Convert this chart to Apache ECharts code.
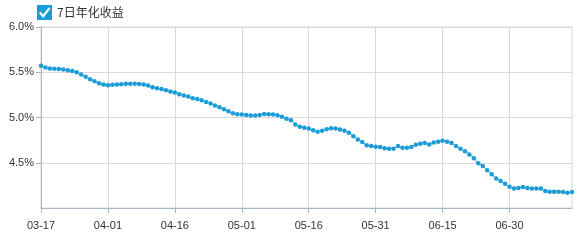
<!DOCTYPE html>
<html><head><meta charset="utf-8">
<script src="https://cdn.jsdelivr.net/npm/echarts@6/dist/echarts.min.js"></script>
<style>html,body{margin:0;padding:0;background:#fff}#c{width:583px;height:240px}</style>
</head><body><div id="c"></div>
<script>
var seriesName = '7日年化收益';
var dates = [
'03-17','03-18','03-19','03-20','03-21','03-22','03-23','03-24','03-25','03-26','03-27','03-28','03-29','03-30','03-31',
'04-01','04-02','04-03','04-04','04-05','04-06','04-07','04-08','04-09','04-10','04-11','04-12','04-13','04-14','04-15',
'04-16','04-17','04-18','04-19','04-20','04-21','04-22','04-23','04-24','04-25','04-26','04-27','04-28','04-29','04-30',
'05-01','05-02','05-03','05-04','05-05','05-06','05-07','05-08','05-09','05-10','05-11','05-12','05-13','05-14','05-15',
'05-16','05-17','05-18','05-19','05-20','05-21','05-22','05-23','05-24','05-25','05-26','05-27','05-28','05-29','05-30',
'05-31','06-01','06-02','06-03','06-04','06-05','06-06','06-07','06-08','06-09','06-10','06-11','06-12','06-13','06-14',
'06-15','06-16','06-17','06-18','06-19','06-20','06-21','06-22','06-23','06-24','06-25','06-26','06-27','06-28','06-29',
'06-30','07-01','07-02','07-03','07-04','07-05','07-06','07-07','07-08','07-09','07-10','07-11','07-12','07-13','07-14'
];
var yields = [
5.571,5.552,5.542,5.540,5.535,5.530,5.522,5.515,5.500,5.474,5.450,5.423,5.401,5.379,5.365,
5.357,5.361,5.365,5.368,5.372,5.374,5.374,5.371,5.365,5.353,5.333,5.322,5.315,5.300,5.286,
5.275,5.256,5.242,5.231,5.212,5.205,5.190,5.172,5.154,5.132,5.113,5.091,5.069,5.047,5.036,
5.033,5.029,5.022,5.022,5.028,5.040,5.037,5.033,5.026,5.008,4.986,4.970,4.923,4.897,4.886,
4.879,4.860,4.843,4.854,4.871,4.882,4.879,4.868,4.854,4.832,4.794,4.758,4.729,4.692,4.685,
4.678,4.674,4.660,4.656,4.656,4.685,4.667,4.667,4.674,4.700,4.711,4.718,4.703,4.725,4.733,
4.744,4.733,4.718,4.685,4.656,4.626,4.590,4.550,4.495,4.465,4.418,4.374,4.326,4.297,4.267,
4.234,4.216,4.220,4.231,4.220,4.216,4.216,4.216,4.187,4.179,4.179,4.179,4.176,4.168,4.176
];
var yMin = 4.0, yMax = 6.0, yStep = 0.5;

var blue = '#1a9cd8';
var checkSvg = "<svg xmlns='http://www.w3.org/2000/svg' width='30' height='30' viewBox='0 0 15 15'><rect x='0' y='0' width='15' height='15' fill='" + blue + "'/><path d='M2.8 7.6 L6.2 11.2 L12.6 2.8' stroke='white' stroke-width='2.2' fill='none'/></svg>";
var iconUrl = 'image://data:image/svg+xml;charset=utf-8,' + encodeURIComponent(checkSvg);

var chart = echarts.init(document.getElementById('c'), null, {renderer: 'canvas'});
chart.setOption({
  animation: false,
  legend: {
    left: 32, top: 0, itemWidth: 15, itemHeight: 15, itemGap: 6,
    data: [{name: seriesName, icon: iconUrl}],
    textStyle: {fontSize: 12, color: '#333', fontFamily: '"Noto Sans CJK SC", sans-serif'}
  },
  grid: {left: 41, right: 11, top: 27, bottom: 32, show: true, borderColor: '#ddd6de', borderWidth: 1, containLabel: false},
  xAxis: {
    type: 'category', data: dates, boundaryGap: false,
    axisLine: {lineStyle: {color: '#a9b6c6'}},
    axisTick: {interval: 14, length: 5, lineStyle: {color: '#a9b6c6'}},
    axisLabel: {interval: 14, color: '#333', fontSize: 11, fontFamily: 'Liberation Sans, Arial', margin: 12},
    splitLine: {show: true, interval: 14, lineStyle: {color: '#ddd6de'}}
  },
  yAxis: {
    type: 'value', min: yMin, max: yMax, interval: yStep,
    axisLine: {show: true, lineStyle: {color: '#a9b6c6'}},
    axisTick: {show: true, length: 5, lineStyle: {color: '#a9b6c6'}},
    axisLabel: {showMinLabel: false, color: '#333', fontSize: 11, fontFamily: 'Liberation Sans, Arial', margin: 7,
      formatter: function (v) { return v.toFixed(1) + '%'; }},
    splitLine: {show: true, lineStyle: {color: '#ddd6de'}}
  },
  series: [{
    name: seriesName, type: 'line', data: yields, smooth: true,
    symbol: 'circle', symbolSize: 4.5, showAllSymbol: true,
    itemStyle: {color: blue}, lineStyle: {color: blue, width: 1}
  }]
});
</script></body></html>
